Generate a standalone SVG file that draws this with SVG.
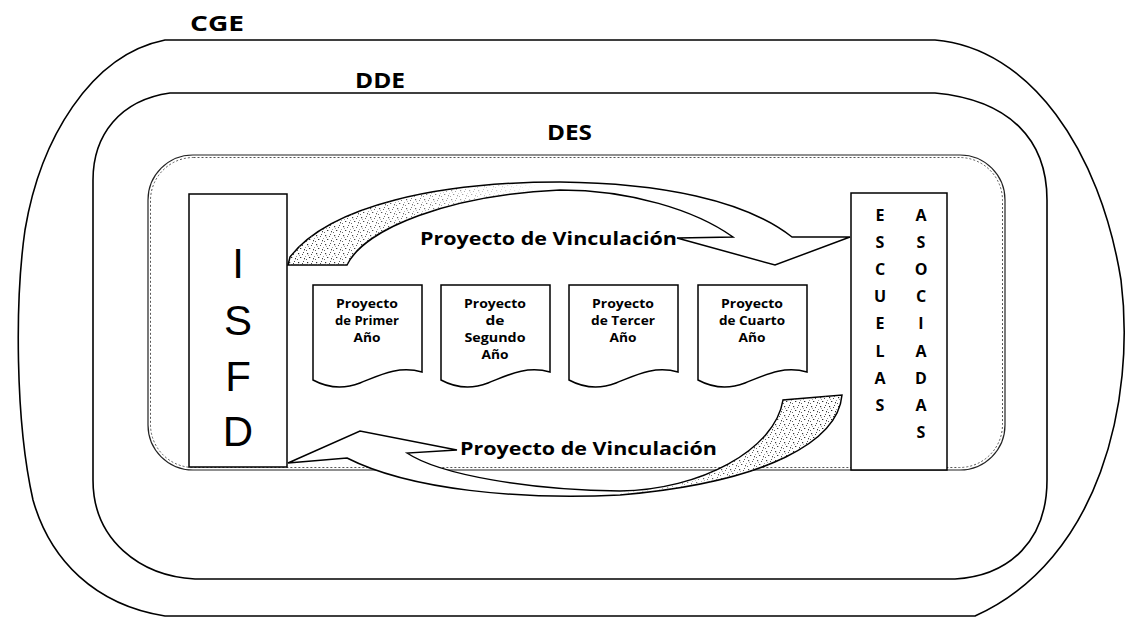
<svg xmlns="http://www.w3.org/2000/svg" width="1129" height="618" viewBox="0 0 1129 618">
<style>
.ln{fill:none;stroke:#000;stroke-width:1.6}
.box{fill:#fff;stroke:#000;stroke-width:1.5}
.lbl{font-family:"Open Sans","Liberation Sans",Arial,sans-serif;font-weight:bold;fill:#000}
.doc{font-family:"Open Sans","Liberation Sans",Arial,sans-serif;font-weight:bold;font-size:12.5px;fill:#000;text-anchor:middle}
.big{font-family:"Liberation Sans",Arial,sans-serif;font-size:42px;fill:#000;text-anchor:middle}
.col{font-family:"Open Sans","Liberation Sans",Arial,sans-serif;font-weight:bold;font-size:16px;fill:#000;text-anchor:middle}
.arr{fill:#fff;stroke:#000;stroke-width:1.5;stroke-linejoin:miter}
</style>
<defs>
<pattern id="stip" width="9" height="9" patternUnits="userSpaceOnUse">
<rect x="1" y="1" width="1.2" height="1.2" fill="#222"/>
<rect x="5" y="2" width="1" height="1" fill="#444"/>
<rect x="3" y="5" width="1.3" height="1" fill="#222"/>
<rect x="7" y="6" width="1" height="1.3" fill="#333"/>
<rect x="0" y="7" width="1" height="1" fill="#555"/>
<rect x="6" y="0" width="1" height="1" fill="#444"/>
<rect x="2" y="3" width="0.8" height="0.8" fill="#666"/>
<rect x="8" y="4" width="0.8" height="0.8" fill="#555"/>
</pattern>
<linearGradient id="fadeL" x1="288" y1="0" x2="540" y2="0" gradientUnits="userSpaceOnUse">
<stop offset="0" stop-color="#fff" stop-opacity="1"/>
<stop offset="0.5" stop-color="#fff" stop-opacity="0.7"/>
<stop offset="1" stop-color="#fff" stop-opacity="0"/>
</linearGradient>
<linearGradient id="fadeR" x1="845" y1="0" x2="600" y2="0" gradientUnits="userSpaceOnUse">
<stop offset="0" stop-color="#fff" stop-opacity="1"/>
<stop offset="0.5" stop-color="#fff" stop-opacity="0.8"/>
<stop offset="1" stop-color="#fff" stop-opacity="0"/>
</linearGradient>
<mask id="mL"><rect x="0" y="0" width="1129" height="618" fill="url(#fadeL)"/></mask>
<mask id="mR"><rect x="0" y="0" width="1129" height="618" fill="url(#fadeR)"/></mask>
</defs>
<rect width="1129" height="618" fill="#fff"/>

<g id="cge">
<path class="ln" d="M165,40 L935,40 C1030,48 1100,150 1121,280 C1136,400 1100,560 975,616 L165,616 C95,605 50,560 33,500 C15,420 15,300 25,230 C40,140 90,55 165,40 Z"/>
<text class="lbl" x="190" y="31" font-size="21" textLength="54" lengthAdjust="spacingAndGlyphs">CGE</text>
</g>

<g id="dde">
<path class="ln" d="M170,93 L935,93 C1010,100 1047,140 1047,200 L1047,480 C1047,540 1010,576 955,579 L195,579 C140,576 93,540 93,480 L93,180 C93,135 120,100 170,93 Z"/>
<text class="lbl" x="355" y="88" font-size="21" textLength="50" lengthAdjust="spacingAndGlyphs">DDE</text>
</g>

<g id="des">
<rect x="148" y="155" width="857" height="315" rx="45" ry="45" fill="none" stroke="#222" stroke-width="1.2"/>
<rect x="150.5" y="157.5" width="852" height="310" rx="43" ry="43" fill="none" stroke="#555" stroke-width="1" stroke-dasharray="2 2"/>
<text class="lbl" x="547" y="140" font-size="21" textLength="45" lengthAdjust="spacingAndGlyphs">DES</text>
</g>

<g id="isfd">
<rect class="box" x="189" y="194" width="98" height="273"/>
<text class="big" x="238" y="278">I</text>
<text class="big" x="238" y="335">S</text>
<text class="big" x="238" y="391">F</text>
<text class="big" x="238" y="446">D</text>
</g>

<g id="escuelas">
<rect class="box" x="851" y="193" width="96" height="277"/>
<g class="col">
<text x="880" y="221">E</text><text x="921" y="221">A</text>
<text x="880" y="248">S</text><text x="921" y="248">S</text>
<text x="880" y="275">C</text><text x="921" y="275">O</text>
<text x="880" y="302">U</text><text x="921" y="302">C</text>
<text x="880" y="329">E</text><text x="921" y="329">I</text>
<text x="880" y="357">L</text><text x="921" y="357">A</text>
<text x="880" y="384">A</text><text x="921" y="384">D</text>
<text x="880" y="411">S</text><text x="921" y="411">A</text>
<text x="921" y="438">S</text>
</g>
</g>

<g id="doc1">
<path class="box" d="M313,285 H422 V372 C398,365 378,376 360,383 C342,390 326,387 313,380 Z"/>
<text class="doc" x="367" y="308" textLength="62" lengthAdjust="spacingAndGlyphs">Proyecto</text>
<text class="doc" x="367" y="325" textLength="64" lengthAdjust="spacingAndGlyphs">de Primer</text>
<text class="doc" x="367" y="342" textLength="27" lengthAdjust="spacingAndGlyphs">Año</text>
</g>
<g id="doc2">
<path class="box" d="M441,285 H550 V372 C526,365 506,376 488,383 C470,390 454,387 441,380 Z"/>
<text class="doc" x="495" y="308" textLength="62" lengthAdjust="spacingAndGlyphs">Proyecto</text>
<text class="doc" x="495" y="325" textLength="19" lengthAdjust="spacingAndGlyphs">de</text>
<text class="doc" x="495" y="342" textLength="61" lengthAdjust="spacingAndGlyphs">Segundo</text>
<text class="doc" x="495" y="359" textLength="27" lengthAdjust="spacingAndGlyphs">Año</text>
</g>
<g id="doc3">
<path class="box" d="M569,285 H678 V372 C654,365 634,376 616,383 C598,390 582,387 569,380 Z"/>
<text class="doc" x="623" y="308" textLength="62" lengthAdjust="spacingAndGlyphs">Proyecto</text>
<text class="doc" x="623" y="325" textLength="64" lengthAdjust="spacingAndGlyphs">de Tercer</text>
<text class="doc" x="623" y="342" textLength="27" lengthAdjust="spacingAndGlyphs">Año</text>
</g>
<g id="doc4">
<path class="box" d="M698,285 H807 V372 C783,365 763,376 745,383 C727,390 711,387 698,380 Z"/>
<text class="doc" x="752" y="308" textLength="62" lengthAdjust="spacingAndGlyphs">Proyecto</text>
<text class="doc" x="752" y="325" textLength="66" lengthAdjust="spacingAndGlyphs">de Cuarto</text>
<text class="doc" x="752" y="342" textLength="27" lengthAdjust="spacingAndGlyphs">Año</text>
</g>

<g id="connectors">
<g id="arrow-top">
<path class="arr" d="M850,237 L792,237 C745,200 660,183 560,182 C440,182 330,205 290,257 L288,265 L347,265 C365,228 450,195 560,190 C630,190 695,210 733,237 L677,238 L775,265 Z"/>
<path d="M560,182 C440,182 330,205 290,257 L288,265 L347,265 C365,228 450,195 560,190 Z" fill="url(#stip)" mask="url(#mL)"/>
<text class="lbl" x="420" y="245" font-size="17" textLength="257" lengthAdjust="spacingAndGlyphs">Proyecto de Vinculación</text>
</g>
<g id="arrow-bottom">
<path class="arr" d="M288,463 L360,431 L457,450 L407,453 C440,475 530,490 620,491 C700,490 775,450 783,400 L842,395 C838,440 770,482 620,495 C520,500 410,490 347,458 Z"/>
<path d="M620,491 C700,490 775,450 783,400 L842,395 C838,440 770,482 620,495 Z" fill="url(#stip)" mask="url(#mR)"/>
<text class="lbl" x="460" y="455" font-size="17" textLength="257" lengthAdjust="spacingAndGlyphs">Proyecto de Vinculación</text>
</g>
</g>
</svg>
